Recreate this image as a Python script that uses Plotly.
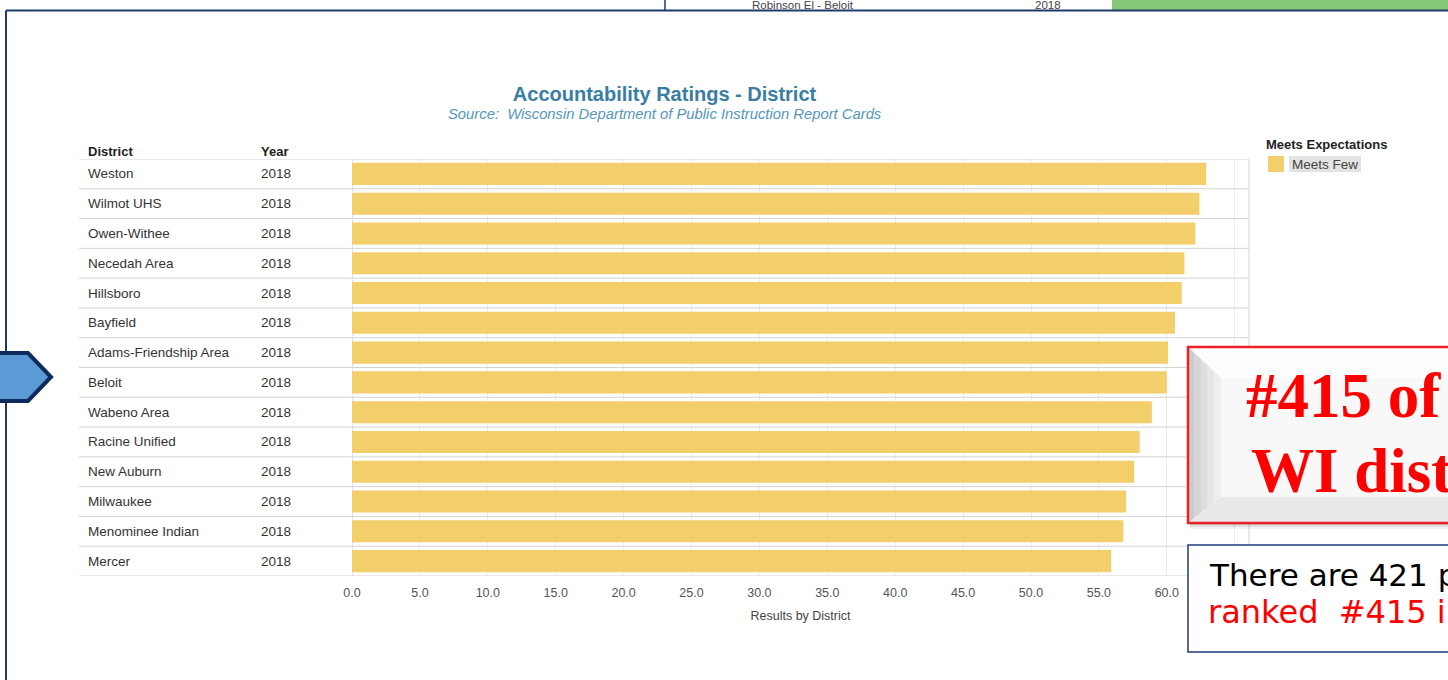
import plotly.graph_objects as go

# ---------------- data ----------------
districts = ["Weston", "Wilmot UHS", "Owen-Withee", "Necedah Area", "Hillsboro", "Bayfield",
             "Adams-Friendship Area", "Beloit", "Wabeno Area", "Racine Unified", "New Auburn",
             "Milwaukee", "Menominee Indian", "Mercer"]
years = ["2018", "2018", "2018", "2018", "2018", "2018", "2018",
         "2018", "2018", "2018", "2018", "2018", "2018", "2018"]
scores = [62.9, 62.4, 62.1, 61.3, 61.1, 60.6, 60.1, 60.0, 58.9, 58.0, 57.6, 57.0, 56.8, 55.9]
tick_values = [0, 5, 10, 15, 20, 25, 30, 35, 40, 45, 50, 55, 60, 65]
tick_labels = ["0.0", "5.0", "10.0", "15.0", "20.0", "25.0", "30.0", "35.0", "40.0",
               "45.0", "50.0", "55.0", "60.0", ""]
legend_title = "Meets Expectations"
legend_item = "Meets Few"

# ---------------- layout geometry (pixels) ----------------
W, H = 1448, 680
ML, MR, MT, MB = 352, 199, 159, 104
PW, PH = W - ML - MR, H - MT - MB


def px(x):
    return (x - ML) / PW


def py(y):
    return (H - MB - y) / PH


ARIAL = "Liberation Sans, Arial, sans-serif"
BAR = "#F2CF6A"
NAVY = "#1F3A6E"

fig = go.Figure()
fig.add_trace(go.Bar(
    x=scores, y=districts, orientation="h", marker=dict(color=BAR, line=dict(width=0)),
    width=0.74, name=legend_item, showlegend=False,
    hovertemplate="%{y}: %{x:.1f}<extra></extra>"))

shapes = []
annotations = []

# row separators (table + plot)
for i in range(len(districts) + 1):
    shapes.append(dict(type="line", xref="paper", yref="y", x0=px(79), x1=px(1249),
                       y0=i - 0.5, y1=i - 0.5, line=dict(color="#d3d3d3", width=1), layer="above"))
# plot borders
shapes.append(dict(type="line", xref="paper", yref="paper", x0=px(1249), x1=px(1249),
                   y0=py(159), y1=py(600), line=dict(color="#d6d6d6", width=1), layer="above"))
shapes.append(dict(type="line", xref="paper", yref="paper", x0=px(352.5), x1=px(352.5),
                   y0=py(159), y1=py(576), line=dict(color="#e2e2e2", width=1), layer="below"))

# table text
annotations.append(dict(xref="paper", yref="paper", x=px(86), y=py(151.5), xanchor="left",
                        yanchor="middle", text="<b>District</b>", showarrow=False,
                        font=dict(family=ARIAL, size=13, color="#222")))
annotations.append(dict(xref="paper", yref="paper", x=px(259), y=py(151.5), xanchor="left",
                        yanchor="middle", text="<b>Year</b>", showarrow=False,
                        font=dict(family=ARIAL, size=13, color="#222")))
for d, yv in zip(districts, years):
    annotations.append(dict(xref="paper", yref="y", x=px(86), y=d, xanchor="left", yanchor="middle",
                            text=d, showarrow=False, font=dict(family=ARIAL, size=13.5, color="#333")))
    annotations.append(dict(xref="paper", yref="y", x=px(259), y=d, xanchor="left", yanchor="middle",
                            text=yv, showarrow=False, font=dict(family=ARIAL, size=13.5, color="#333")))

# subtitle
annotations.append(dict(xref="paper", yref="paper", x=px(664.5), y=py(114), xanchor="center",
                        yanchor="middle", showarrow=False,
                        text="<i>Source:  Wisconsin Department of Public Instruction Report Cards</i>",
                        font=dict(family=ARIAL, size=14.8, color="#5596BB")))

# legend (manual)
annotations.append(dict(xref="paper", yref="paper", x=px(1264), y=py(144), xanchor="left",
                        yanchor="middle", showarrow=False, text="<b>" + legend_title + "</b>",
                        font=dict(family=ARIAL, size=13, color="#222")))
shapes.append(dict(type="rect", xref="paper", yref="paper", x0=px(1268), x1=px(1284),
                   y0=py(156), y1=py(172), fillcolor=BAR, line=dict(width=0), layer="above"))
shapes.append(dict(type="rect", xref="paper", yref="paper", x0=px(1289), x1=px(1361),
                   y0=py(156), y1=py(172), fillcolor="#e3e3e3", line=dict(width=0), layer="above"))
annotations.append(dict(xref="paper", yref="paper", x=px(1290), y=py(164), xanchor="left",
                        yanchor="middle", showarrow=False, text=legend_item,
                        font=dict(family=ARIAL, size=13.5, color="#444")))

# ---------------- slide decorations ----------------
# piece of the previous slide at top
shapes.append(dict(type="rect", xref="paper", yref="paper", x0=px(1112), x1=px(1460),
                   y0=py(-5), y1=py(10), fillcolor="#86C878", line=dict(width=0), layer="above"))
annotations.append(dict(xref="paper", yref="paper", x=px(750), y=py(5), xanchor="left",
                        yanchor="middle", showarrow=False, text="Robinson El - Beloit",
                        font=dict(family=ARIAL, size=11.5, color="#444")))
annotations.append(dict(xref="paper", yref="paper", x=px(1033), y=py(5), xanchor="left",
                        yanchor="middle", showarrow=False, text="2018",
                        font=dict(family=ARIAL, size=11.5, color="#444")))
shapes.append(dict(type="line", xref="paper", yref="paper", x0=px(665), x1=px(665),
                   y0=py(-5), y1=py(10), line=dict(color=NAVY, width=1.5), layer="above"))
# slide frame
shapes.append(dict(type="line", xref="paper", yref="paper", x0=px(6), x1=px(1460),
                   y0=py(10.5), y1=py(10.5), line=dict(color=NAVY, width=2), layer="above"))
shapes.append(dict(type="line", xref="paper", yref="paper", x0=px(6), x1=px(6),
                   y0=py(10.5), y1=py(690), line=dict(color=NAVY, width=2), layer="above"))

# arrow pentagon
arrow = "M {} {} L {} {} L {} {} L {} {} L {} {} Z".format(
    px(-8), py(353), px(28), py(353), px(51), py(377), px(28), py(401), px(-8), py(401))
shapes.append(dict(type="path", xref="paper", yref="paper", path=arrow, fillcolor="#5B9BD5",
                   line=dict(color="#0E2A5E", width=4), layer="above"))

# red bevelled callout
BX0, BX1, BY0, BY1 = 1188, 1460, 347, 523
for off, op in [(6, 0.05), (4, 0.08), (2, 0.12)]:
    shapes.append(dict(type="rect", xref="paper", yref="paper", x0=px(BX0 + 2), x1=px(BX1),
                       y0=py(BY1 - 2), y1=py(BY1 + off), fillcolor="rgba(0,0,0,%.2f)" % op,
                       line=dict(width=0), layer="above"))
shapes.append(dict(type="rect", xref="paper", yref="paper", x0=px(BX0), x1=px(BX1),
                   y0=py(BY0), y1=py(BY1), fillcolor="#f8f8f8", line=dict(width=0), layer="above"))
IX, ITOP, IBOT = 1221, 378, 497
# top bevel
shapes.append(dict(type="path", xref="paper", yref="paper",
                   path="M {} {} L {} {} L {} {} L {} {} Z".format(px(BX0), py(BY0), px(BX1), py(BY0),
                                                                  px(BX1), py(ITOP), px(IX), py(ITOP)),
                   fillcolor="#fdfdfd", line=dict(width=0), layer="above"))
# bottom bevel
shapes.append(dict(type="path", xref="paper", yref="paper",
                   path="M {} {} L {} {} L {} {} L {} {} Z".format(px(BX0), py(BY1), px(IX), py(IBOT),
                                                                  px(BX1), py(IBOT), px(BX1), py(BY1)),
                   fillcolor="#e9e9e9", line=dict(width=0), layer="above"))
# left bevel in strips (pseudo gradient)
strip_cols = ["#cbcbcb", "#d5d5d5", "#dedede", "#e6e6e6", "#eeeeee"]
n = len(strip_cols)


def yt(x):
    return BY0 + (x - BX0) * (ITOP - BY0) / (IX - BX0)


def yb(x):
    return BY1 - (x - BX0) * (BY1 - IBOT) / (IX - BX0)


for k, c in enumerate(strip_cols):
    a = BX0 + (IX - BX0) * k / n
    b = BX0 + (IX - BX0) * (k + 1) / n
    path = "M {} {} L {} {} L {} {} L {} {} Z".format(px(a), py(yt(a)), px(b), py(yt(b)),
                                                      px(b), py(yb(b)), px(a), py(yb(a)))
    shapes.append(dict(type="path", xref="paper", yref="paper", path=path, fillcolor=c,
                       line=dict(width=0), layer="above"))
shapes.append(dict(type="rect", xref="paper", yref="paper", x0=px(BX0), x1=px(BX1),
                   y0=py(BY0), y1=py(BY1), fillcolor="rgba(0,0,0,0)",
                   line=dict(color="#EE2026", width=2.5), layer="above"))
CALLOUT_FONT = "Liberation Serif, Times New Roman, serif"
annotations.append(dict(xref="paper", yref="paper", x=px(1244), y=py(396), xanchor="left",
                        yanchor="middle", showarrow=False, text="<b>#415 of 421</b>",
                        font=dict(family=CALLOUT_FONT, size=63, color="#FF0000")))
annotations.append(dict(xref="paper", yref="paper", x=px(1249), y=py(471), xanchor="left",
                        yanchor="middle", showarrow=False, text="<b>WI districts</b>",
                        font=dict(family=CALLOUT_FONT, size=63, color="#FF0000")))

# text box
shapes.append(dict(type="rect", xref="paper", yref="paper", x0=px(1188), x1=px(1460),
                   y0=py(545), y1=py(652), fillcolor="#ffffff",
                   line=dict(color="#1F3C7A", width=1.5), layer="above"))
annotations.append(dict(xref="paper", yref="paper", x=px(1207), y=py(575), xanchor="left",
                        yanchor="middle", showarrow=False, text="There are 421 public",
                        font=dict(family="DejaVu Sans, Verdana, sans-serif", size=31, color="#000000")))
annotations.append(dict(xref="paper", yref="paper", x=px(1206), y=py(612), xanchor="left",
                        yanchor="middle", showarrow=False, text="ranked  #415 in",
                        font=dict(family="DejaVu Sans, Verdana, sans-serif", size=32, color="#FF0000")))

fig.update_layout(
    width=W, height=H,
    margin=dict(l=ML, r=MR, t=MT, b=MB, pad=0),
    paper_bgcolor="white", plot_bgcolor="white",
    title=dict(text="<b>Accountability Ratings - District</b>", xref="paper", x=px(664.5),
               xanchor="center", yref="container", y=1 - 94 / H, yanchor="middle",
               font=dict(family=ARIAL, size=20, color="#3A7DA2")),
    xaxis=dict(range=[0, PW / 13.58], tickvals=tick_values, ticktext=tick_labels,
               showgrid=True, gridcolor="#ececec", gridwidth=1, zeroline=False,
               showline=False, ticks="outside", ticklen=5, tickcolor="rgba(0,0,0,0)",
               tickfont=dict(family=ARIAL, size=12.5, color="#555"),
               title=dict(text="Results by District", standoff=12,
                          font=dict(family=ARIAL, size=12.5, color="#444")),
               fixedrange=True),
    yaxis=dict(categoryorder="array", categoryarray=districts, range=[len(districts) - 0.5, -0.5],
               showticklabels=False, showgrid=False, zeroline=False, showline=False, ticks="",
               fixedrange=True),
    shapes=shapes, annotations=annotations, showlegend=False, bargap=0.26,
)

fig.write_html("out.html", config={"displayModeBar": False},
               post_script="document.body.style.margin='0';document.body.style.overflow='hidden';")
